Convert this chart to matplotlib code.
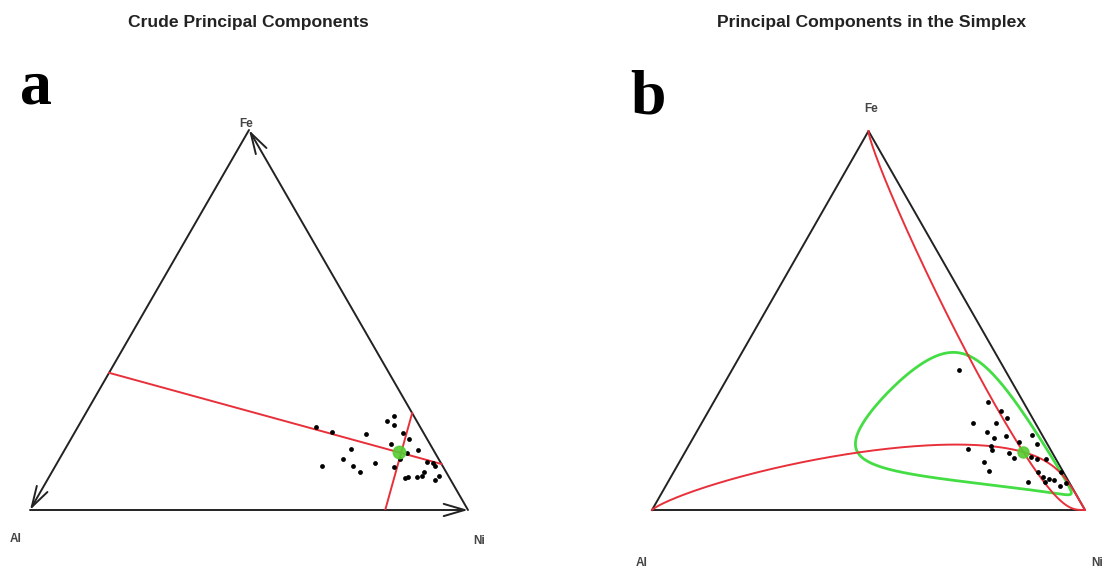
import numpy as np
import matplotlib
matplotlib.use("Agg")
import matplotlib.pyplot as plt

# compositions as (Ni, Fe) fractions, Al = 1 - Ni - Fe
crude_ni = [0.544, 0.587, 0.667, 0.698, 0.708, 0.719, 0.653, 0.648, 0.609, 0.679,
            0.703, 0.726, 0.737, 0.750, 0.772, 0.807, 0.774, 0.778, 0.786, 0.843,
            0.858, 0.867, 0.814, 0.820, 0.840, 0.850, 0.850, 0.885, 0.889]
crude_fe = [0.218, 0.205, 0.200, 0.234, 0.247, 0.224, 0.161, 0.134, 0.116, 0.116,
            0.100, 0.124, 0.174, 0.203, 0.187, 0.158, 0.113, 0.134, 0.150, 0.126,
            0.124, 0.116, 0.084, 0.087, 0.087, 0.089, 0.100, 0.079, 0.089]
crude_center = (0.766, 0.153)
# crude PC lines: endpoints on the triangle edges (Ni, Fe)
crude_pc1 = [(0.000, 0.361), (0.879, 0.121)]
crude_pc2 = [(0.811, 0.000), (0.745, 0.255)]

simp_ni = [0.525, 0.634, 0.676, 0.699, 0.626, 0.679, 0.671, 0.695, 0.720, 0.758,
           0.779, 0.802, 0.649, 0.698, 0.706, 0.749, 0.767, 0.703, 0.727, 0.805,
           0.822, 0.842, 0.841, 0.831, 0.860, 0.876, 0.889, 0.871, 0.911, 0.921, 0.895]
simp_fe = [0.369, 0.285, 0.261, 0.243, 0.230, 0.230, 0.206, 0.190, 0.195, 0.179,
           0.198, 0.174, 0.161, 0.169, 0.158, 0.150, 0.137, 0.127, 0.103, 0.140,
           0.135, 0.135, 0.100, 0.074, 0.087, 0.082, 0.079, 0.074, 0.063, 0.071, 0.100]
# simplex center (Al, Fe, Ni) and clr loadings of the two PCs
simp_center = [0.066, 0.153, 0.781]
pc1_load = [-0.195, 0.785, -0.590]
pc2_load = [0.792, -0.222, -0.570]
ell_radii = [1.0, 1.9]

W, H = 1104, 569
R3 = np.sqrt(3) / 2
RED = "#e8303a"
GREEN = "#44dd44"


def tern(ni, fe):
    ni = np.asarray(ni, float)
    fe = np.asarray(fe, float)
    return ni + fe / 2, fe * R3


def panel(fig, x0, x1, ybot, ytop):
    ax = fig.add_axes([x0 / W, (H - ybot) / H, (x1 - x0) / W, (ybot - ytop) / H])
    ax.set_xlim(0, 1)
    ax.set_ylim(0, R3)
    ax.axis("off")
    return ax


def comp_curve(scores):
    lc = np.log(simp_center)
    pts = np.exp(lc[None, :] + scores)
    pts = pts / pts.sum(axis=1, keepdims=True)
    return tern(pts[:, 2], pts[:, 1])


fig = plt.figure(figsize=(W / 100, H / 100), dpi=100)
fig.patch.set_facecolor("white")

# ---- panel a ----
ax = panel(fig, 30, 468, 510, 130)
al, ni, fe = (0, 0), (1, 0), (0.5, R3)
arr = dict(arrowstyle="->,head_length=0.75,head_width=0.22", lw=1.4,
           color="#222222", mutation_scale=20, shrinkA=0, shrinkB=0)
for s, e in [(al, ni), (ni, fe), (fe, al)]:
    ax.annotate("", xy=e, xytext=s, arrowprops=arr, annotation_clip=False)
for seg in (crude_pc1, crude_pc2):
    sx, sy = tern([p[0] for p in seg], [p[1] for p in seg])
    ax.plot(sx, sy, color=RED, lw=1.4, zorder=3)
px, py = tern(crude_ni, crude_fe)
ax.scatter(px, py, s=12, color="black", zorder=4, linewidths=0)
cx, cy = tern(*crude_center)
ax.plot(cx, cy, "o", color="#55cc33", ms=9, alpha=0.9, zorder=5)

# ---- panel b ----
bx = panel(fig, 652, 1085, 510, 131)
bx.plot([0, 1, 0.5, 0], [0, 0, R3, 0], color="#222222", lw=1.4, clip_on=False)
t = np.linspace(-14, 14, 3000)[:, None]
for load in (pc1_load, pc2_load):
    lx, ly = comp_curve(t * np.asarray(load)[None, :])
    bx.plot(lx, ly, color=RED, lw=1.4, zorder=3, clip_on=False)
th = np.linspace(0, 2 * np.pi, 400)[:, None]
sc = (ell_radii[0] * np.cos(th) * np.asarray(pc1_load)[None, :]
      + ell_radii[1] * np.sin(th) * np.asarray(pc2_load)[None, :])
ex, ey = comp_curve(sc)
bx.plot(ex, ey, color=GREEN, lw=2, zorder=2)
qx, qy = tern(simp_ni, simp_fe)
bx.scatter(qx, qy, s=12, color="black", zorder=4, linewidths=0)
mx, my = tern(simp_center[2], simp_center[1])
bx.plot(mx, my, "o", color="#55cc33", ms=8, alpha=0.9, zorder=5)

# ---- texts ----
tkw = dict(fontsize=12.6, fontweight="bold", family="Liberation Sans",
           color="#222222", ha="center", va="center")
fig.text(248 / W, 1 - 23 / H, "Crude Principal Components", **tkw)
fig.text(872 / W, 1 - 23 / H, "Principal Components in the Simplex", **tkw)

lkw = dict(fontsize=46, fontweight="bold", family="Liberation Serif",
           color="black", ha="center", va="baseline")
fig.text(36 / W, 1 - 103 / H, "a", **lkw)
fig.text(648 / W, 1 - 113 / H, "b", **lkw)

vkw = dict(fontsize=8.5, fontweight="bold", family="Liberation Sans",
           color="#444444", ha="center", va="center")
fig.text(246 / W, 1 - 124 / H, "Fe", **vkw)
fig.text(16 / W, 1 - 539 / H, "Al", **vkw)
fig.text(479 / W, 1 - 541 / H, "Ni", **vkw)
fig.text(871 / W, 1 - 109 / H, "Fe", **vkw)
fig.text(642 / W, 1 - 563 / H, "Al", **vkw)
fig.text(1103 / W, 1 - 563 / H, "Ni", ha="right", va="center", fontsize=8.5,
         fontweight="bold", family="Liberation Sans", color="#444444")

fig.savefig("out.png", dpi=100, facecolor="white")
